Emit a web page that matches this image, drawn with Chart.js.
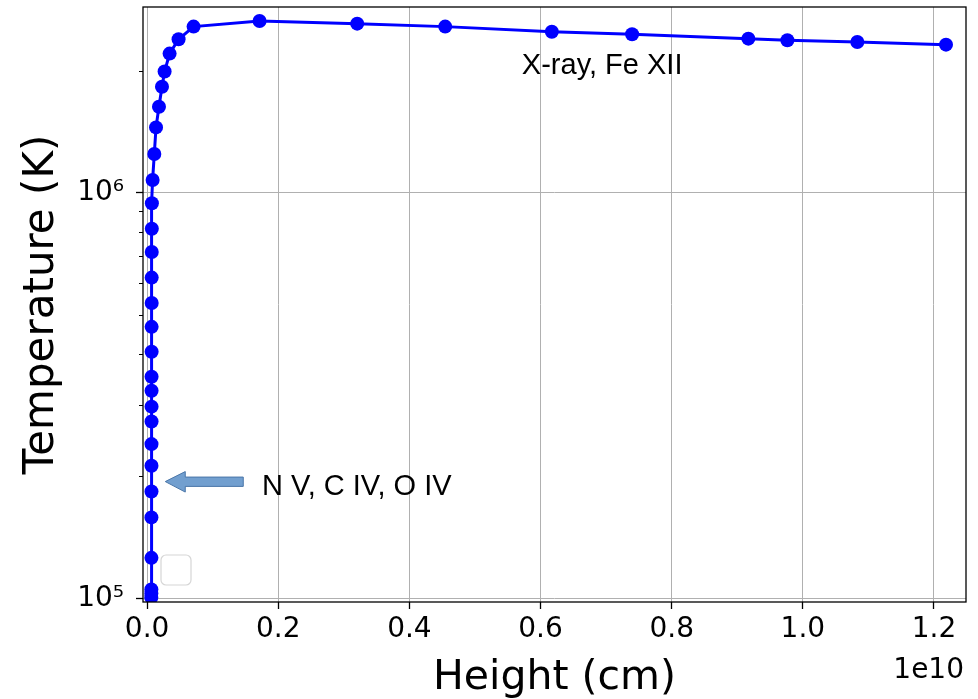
<!DOCTYPE html>
<html>
<head>
<meta charset="utf-8">
<script src="https://cdn.jsdelivr.net/npm/chart.js@4.4.1/dist/chart.umd.min.js"></script>
<style>
  html, body { margin: 0; padding: 0; background: #fff; }
</style>
</head>
<body>
<canvas id="myChart" width="978" height="699"></canvas>
<script>
// Temperature profile against height, one point per model level
const heights = [
  6.4e7, 6.5e7, 6.5e7, 6.6e7, 6.6e7, 6.7e7, 6.7e7, 6.7e7, 6.8e7, 6.8e7,
  6.8e7, 6.8e7, 6.9e7, 6.9e7, 7.0e7, 7.0e7, 7.1e7, 7.2e7, 7.3e7, 8.4e7,
  1.10e8, 1.36e8, 1.81e8, 2.27e8, 2.67e8, 3.43e8, 4.80e8, 7.09e8, 1.715e9,
  3.204e9, 4.546e9, 6.172e9, 7.396e9, 9.169e9, 9.764e9, 1.0831e10, 1.2183e10
];
const temperatures = [
  1.005e5, 1.027e5, 1.051e5, 1.258e5, 1.583e5, 1.834e5, 2.122e5, 2.400e5, 2.728e5, 2.969e5,
  3.250e5, 3.518e5, 4.054e5, 4.671e5, 5.351e5, 6.178e5, 7.143e5, 8.154e5, 9.428e5, 1.076e6,
  1.247e6, 1.450e6, 1.631e6, 1.826e6, 1.991e6, 2.205e6, 2.392e6, 2.570e6, 2.654e6,
  2.614e6, 2.570e6, 2.497e6, 2.461e6, 2.400e6, 2.379e6, 2.356e6, 2.320e6
];

const xTicks = [0, 0.2e10, 0.4e10, 0.6e10, 0.8e10, 1.0e10, 1.2e10];
const yTicks = [1e5, 1e6];
const yMinorTicks = [2e5, 3e5, 4e5, 5e5, 6e5, 7e5, 8e5, 9e5, 2e6];
const yTickLabels = { 100000: '10\u2075', 1000000: '10\u2076' };

// annotation anchors, in data units
const lineLabel = { text: 'N V, C IV, O IV', x: 2.77e8, y: 1.94e5 };
const coronaLabel = { text: 'X-ray, Fe XII', x: 5.715e9, y: 1.969e6 };

const AXIS_FONT = 'DejaVu Sans';

const points = heights.map((h, i) => ({ x: h, y: temperatures[i] }));

const decorations = {
  id: 'decorations',
  afterDraw(chart) {
    const { ctx, chartArea: a, scales } = chart;
    const yS = scales.y, xS = scales.x;
    ctx.save();

    // minor ticks on the log axis
    ctx.strokeStyle = '#000';
    ctx.lineWidth = 1;
    yMinorTicks.forEach(v => {
      const py = Math.round(yS.getPixelForValue(v)) + 0.5;
      ctx.beginPath();
      ctx.moveTo(a.left - 4, py);
      ctx.lineTo(a.left, py);
      ctx.stroke();
    });

    // axes frame
    ctx.lineWidth = 1.3;
    ctx.strokeStyle = '#000';
    ctx.strokeRect(a.left, a.top, a.right - a.left, a.bottom - a.top);

    // empty legend box
    const bx = a.left + 18, by = a.bottom - 47, bw = 30, bh = 30, r = 5;
    ctx.beginPath();
    ctx.moveTo(bx + r, by);
    ctx.arcTo(bx + bw, by, bx + bw, by + bh, r);
    ctx.arcTo(bx + bw, by + bh, bx, by + bh, r);
    ctx.arcTo(bx, by + bh, bx, by, r);
    ctx.arcTo(bx, by, bx + bw, by, r);
    ctx.closePath();
    ctx.fillStyle = 'rgba(255,255,255,0.8)';
    ctx.fill();
    ctx.strokeStyle = '#d6d6d6';
    ctx.lineWidth = 1.2;
    ctx.stroke();

    // arrow pointing at the transition region
    const tx = xS.getPixelForValue(lineLabel.x);
    const ty = yS.getPixelForValue(lineLabel.y);
    ctx.beginPath();
    ctx.moveTo(tx, ty);
    ctx.lineTo(tx + 20, ty - 10);
    ctx.lineTo(tx + 20, ty - 4.5);
    ctx.lineTo(tx + 78, ty - 4.5);
    ctx.lineTo(tx + 78, ty + 4.8);
    ctx.lineTo(tx + 20, ty + 4.8);
    ctx.lineTo(tx + 20, ty + 10.5);
    ctx.closePath();
    ctx.fillStyle = '#729fcf';
    ctx.fill();
    ctx.strokeStyle = '#4a76a8';
    ctx.lineWidth = 1;
    ctx.stroke();

    ctx.fillStyle = '#000';
    ctx.font = '29px "Liberation Sans"';
    ctx.textAlign = 'left';
    ctx.textBaseline = 'alphabetic';
    ctx.fillText(lineLabel.text, tx + 96.7, ty + 13.3);
    ctx.fillText(coronaLabel.text,
      xS.getPixelForValue(coronaLabel.x), yS.getPixelForValue(coronaLabel.y));

    // offset text of the x axis
    ctx.font = '28px "' + AXIS_FONT + '"';
    ctx.textAlign = 'right';
    ctx.fillText('1e10', a.right - 2, 678);

    ctx.restore();
  }
};

const ctx = document.getElementById('myChart').getContext('2d');
const myChart = new Chart(ctx, {
  type: 'line',
  data: {
    datasets: [{
      data: points,
      borderColor: '#0000ff',
      backgroundColor: '#0000ff',
      borderWidth: 3,
      pointRadius: 7,
      pointBorderWidth: 0,
      pointBackgroundColor: '#0000ff',
      tension: 0,
      clip: 0,
    }],
  },
  options: {
    responsive: false,
    animation: false,
    devicePixelRatio: 1,
    layout: { padding: { top: 6, right: 12, left: 0, bottom: 0 } },
    plugins: {
      legend: { display: false },
      tooltip: { enabled: false },
    },
    scales: {
      x: {
        type: 'linear',
        min: -0.00625e10,
        max: 1.2488e10,
        bounds: 'data',
        afterBuildTicks: s => { s.ticks = xTicks.map(v => ({ value: v })); },
        afterFit: s => {
          s.height = 97;
          s.paddingLeft = 0;
          s.paddingRight = 0;
        },
        border: { display: false },
        grid: { color: '#b0b0b0', lineWidth: 1, tickColor: '#000', tickLength: 7, tickWidth: 1.3 },
        ticks: {
          autoSkip: false,
          maxRotation: 0,
          padding: 4,
          color: '#000',
          font: { family: AXIS_FONT, size: 28 },
          callback: v => (v / 1e10).toFixed(1),
        },
        title: {
          display: true,
          text: 'Height (cm)',
          color: '#000',
          font: { family: AXIS_FONT, size: 41, lineHeight: 1.0 },
          padding: { top: 0, bottom: 0 },
        },
      },
      y: {
        type: 'logarithmic',
        min: 9.79e4,
        max: 2.873e6,
        bounds: 'data',
        afterBuildTicks: s => { s.ticks = yTicks.map(v => ({ value: v })); },
        afterFit: s => {
          s.width = 143;
          s.paddingTop = 0;
          s.paddingBottom = 0;
        },
        border: { display: false },
        grid: { color: '#b0b0b0', lineWidth: 1, tickColor: '#000', tickLength: 7, tickWidth: 1.3 },
        ticks: {
          autoSkip: false,
          padding: 12,
          color: '#000',
          font: { family: AXIS_FONT, size: 28 },
          callback: v => yTickLabels[v] || '',
        },
        title: {
          display: true,
          text: 'Temperature (K)',
          color: '#000',
          font: { family: AXIS_FONT, size: 42, lineHeight: 1.0 },
          padding: { top: 21, bottom: 0 },
        },
      },
    },
  },
  plugins: [decorations],
});
</script>
</body>
</html>
